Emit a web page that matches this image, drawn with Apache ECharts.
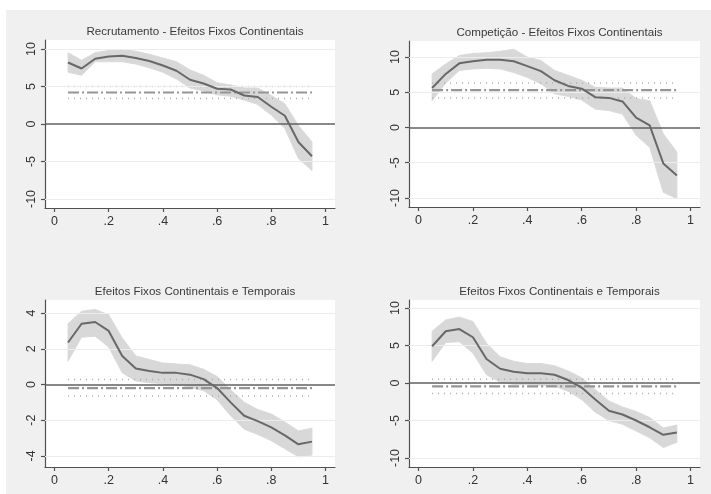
<!DOCTYPE html>
<html><head><meta charset="utf-8">
<script src="https://cdn.jsdelivr.net/npm/echarts@6/dist/echarts.min.js"></script>
<style>html,body{margin:0;padding:0;background:#fff}#c{width:711px;height:494px}</style>
</head><body><div id="c"></div>
<script>
const quantiles = [0.05,0.10,0.15,0.20,0.25,0.30,0.35,0.40,0.45,0.50,0.55,0.60,0.65,0.70,0.75,0.80,0.85,0.90,0.95];
const xTickValues = [0,0.2,0.4,0.6,0.8,1];
const xTickLabels = ['0','.2','.4','.6','.8','1'];

const titles = ['Recrutamento - Efeitos Fixos Continentais','Competição - Efeitos Fixos Continentais','Efeitos Fixos Continentais e Temporais','Efeitos Fixos Continentais e Temporais'];

const p1Coef  = [8.2,7.4,8.7,9.0,9.1,8.8,8.4,7.8,7.1,5.9,5.4,4.7,4.6,3.8,3.6,2.3,1.1,-2.4,-4.3];
const p1Upper = [9.5,8.5,9.5,9.8,9.9,9.7,9.3,8.8,8.3,7.2,6.5,5.5,5.2,4.8,4.8,3.8,2.7,-0.2,-2.4];
const p1Lower = [6.9,6.5,8.3,8.3,8.3,8.0,7.5,6.9,6.0,4.8,4.4,3.9,3.7,3.2,2.6,1.2,-0.6,-4.6,-6.2];
const p1Ols = [4.2,3.4,5.0];
const p1YTicks = [-10,-5,0,5,10];

const p2Coef  = [5.6,7.6,9.1,9.4,9.6,9.6,9.4,8.7,8.0,6.7,5.9,5.5,4.3,4.2,3.7,1.4,0.3,-5.1,-6.8];
const p2Upper = [7.6,9.0,10.2,10.5,10.6,10.8,11.1,10.0,9.5,8.1,7.4,6.7,5.7,5.6,5.6,4.1,3.8,-0.9,-3.5];
const p2Lower = [3.8,6.3,8.1,8.3,8.4,8.3,7.8,7.1,6.2,4.8,4.4,3.9,2.6,2.4,1.9,-1.1,-2.8,-9.2,-10.1];
const p2Ols = [5.3,4.2,6.3];
const p2YTicks = [-10,-5,0,5,10];

const p3Coef  = [2.35,3.4,3.5,3.0,1.6,0.9,0.75,0.65,0.65,0.55,0.3,-0.2,-1.0,-1.75,-2.05,-2.4,-2.85,-3.35,-3.2];
const p3Upper = [3.4,4.1,4.2,3.9,2.6,1.6,1.4,1.2,1.15,1.1,0.85,0.45,-0.3,-1.0,-1.4,-1.65,-2.1,-2.6,-2.45];
const p3Lower = [1.3,2.65,2.7,2.1,0.65,0.2,0.1,0.05,0.0,-0.15,-0.35,-0.85,-1.75,-2.5,-2.8,-3.15,-3.6,-4.05,-3.95];
const p3Ols = [-0.2,-0.65,0.28];
const p3YTicks = [-4,-2,0,2,4];

const p4Coef  = [4.9,6.9,7.2,6.1,3.2,1.9,1.5,1.3,1.3,1.1,0.4,-0.6,-2.2,-3.7,-4.2,-5.0,-5.9,-6.9,-6.6];
const p4Upper = [6.9,8.4,8.8,8.2,5.3,3.5,2.9,2.6,2.6,2.3,1.6,0.7,-0.9,-2.4,-3.2,-3.8,-4.6,-6.0,-5.6];
const p4Lower = [2.9,5.4,5.5,4.0,1.1,0.1,-0.2,-0.2,-0.3,-0.4,-1.1,-2.2,-3.9,-5.0,-5.5,-6.4,-7.3,-8.6,-7.9];
const p4Ols = [-0.45,-1.4,0.5];
const p4YTicks = [-10,-5,0,5,10];

const panels = [
  {coef:p1Coef, up:p1Upper, lo:p1Lower, ols:p1Ols, yt:p1YTicks, ymin:-11.2, ymax:11.2, grid:{left:45,top:40,width:290,height:168}},
  {coef:p2Coef, up:p2Upper, lo:p2Lower, ols:p2Ols, yt:p2YTicks, ymin:-11.28, ymax:12.27, grid:{left:409,top:41,width:291,height:166}},
  {coef:p3Coef, up:p3Upper, lo:p3Lower, ols:p3Ols, yt:p3YTicks, ymin:-4.62, ymax:4.73, grid:{left:45,top:300,width:290,height:167}},
  {coef:p4Coef, up:p4Upper, lo:p4Lower, ols:p4Ols, yt:p4YTicks, ymin:-11.2, ymax:11.07, grid:{left:409,top:300,width:291,height:167}}
];

const FONT = 'Liberation Sans, Arial, sans-serif';
const grids=[], xAxes=[], yAxes=[], series=[], titleArr=[];
panels.forEach((p,i)=>{
  grids.push(Object.assign({show:true, backgroundColor:'#ffffff', borderWidth:0}, p.grid));
  titleArr.push({text:titles[i], left:p.grid.left + p.grid.width/2, top:p.grid.top-19, textAlign:'center',
    textStyle:{fontFamily:FONT, fontSize:11.6, fontWeight:'normal', color:'#3a3a3a'}});
  xAxes.push({type:'value', gridIndex:i, min:-0.035, max:1.035,
    axisLine:{show:true, onZero:false, lineStyle:{color:'#505050', width:1.2}},
    axisTick:{show:true, length:4, customValues:xTickValues, lineStyle:{color:'#505050', width:1.2}},
    axisLabel:{customValues:xTickValues, margin:7, fontFamily:FONT, fontSize:12.5, color:'#333',
      formatter:(v)=>xTickLabels[xTickValues.indexOf(v)] ?? ''},
    splitLine:{show:false}});
  yAxes.push({type:'value', gridIndex:i, min:p.ymin, max:p.ymax,
    axisLine:{show:true, onZero:false, lineStyle:{color:'#505050', width:1.2}},
    axisTick:{show:true, length:4, customValues:p.yt, lineStyle:{color:'#505050', width:1.2}},
    axisLabel:{customValues:p.yt, rotate:90, margin:7, fontFamily:FONT, fontSize:12.5, color:'#333'},
    splitLine:{show:false}});
  // confidence band as one polygon through the axes' scales
  series.push({type:'custom', xAxisIndex:i, yAxisIndex:i, z:2, silent:true, clip:true,
    data:quantiles.map((q,k)=>[q,p.lo[k],p.up[k]]),
    renderItem:(params, api)=>{
      if (params.dataIndex !== 0) return null;
      const upPts = quantiles.map((q,k)=>api.coord([q,p.up[k]]));
      const loPts = quantiles.map((q,k)=>api.coord([q,p.lo[k]])).reverse();
      return {type:'polygon', shape:{points:upPts.concat(loPts)}, style:{fill:'#d8d8d8', stroke:'#dadada', lineWidth:1}};
    },
    markLine:{silent:true, symbol:'none', label:{show:false},
      lineStyle:{color:'#ececec', width:1, type:'solid'},
      data:p.yt.filter(v=>v!==0).map(v=>({yAxis:v}))}});
  // OLS + CI
  const x0 = quantiles[0], x1 = quantiles[quantiles.length-1];
  series.push({type:'line', xAxisIndex:i, yAxisIndex:i, symbol:'none', z:3, silent:true,
    lineStyle:{color:'#aaaaaa', width:1.5, type:[1,5]}, data:[[x0,p.ols[1]],[x1,p.ols[1]]]});
  series.push({type:'line', xAxisIndex:i, yAxisIndex:i, symbol:'none', z:3, silent:true,
    lineStyle:{color:'#aaaaaa', width:1.5, type:[1,5]}, data:[[x0,p.ols[2]],[x1,p.ols[2]]]});
  series.push({type:'line', xAxisIndex:i, yAxisIndex:i, symbol:'none', z:4, silent:true,
    lineStyle:{color:'#959595', width:2.2, type:[11,3,2,3]}, data:[[x0,p.ols[0]],[x1,p.ols[0]]]});
  // coefficient line + zero line
  series.push({type:'line', xAxisIndex:i, yAxisIndex:i, symbol:'none', z:6, silent:true,
    lineStyle:{color:'#686868', width:2}, data:quantiles.map((q,k)=>[q,p.coef[k]]),
    markLine:{silent:true, symbol:'none', label:{show:false}, z:5,
      lineStyle:{color:'#606060', width:1.5, type:'solid'}, data:[{yAxis:0}]}});
});

const chart = echarts.init(document.getElementById('c'), null, {renderer:'canvas'});
chart.setOption({
  backgroundColor:'#ffffff',
  animation:false,
  graphic:[{type:'rect', left:6, top:10, shape:{width:705, height:484}, style:{fill:'#f0f0f0'}, z:-10, silent:true}],
  title:titleArr,
  grid:grids, xAxis:xAxes, yAxis:yAxes, series:series
});
</script></body></html>
